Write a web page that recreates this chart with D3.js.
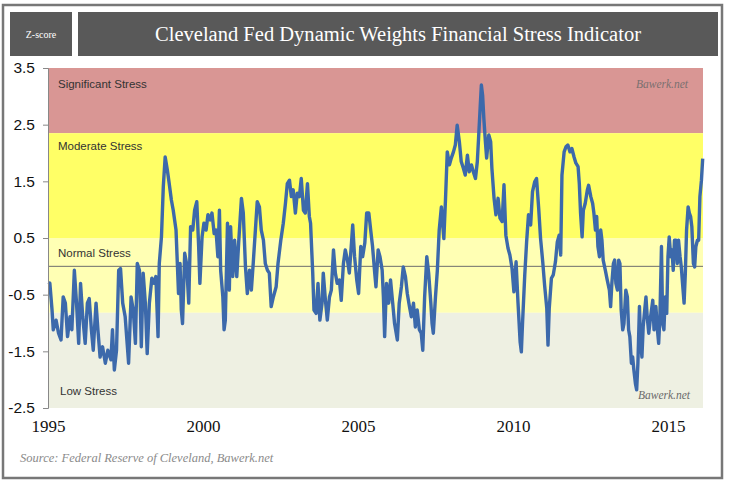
<!DOCTYPE html>
<html><head><meta charset="utf-8">
<script src="https://cdn.jsdelivr.net/npm/d3@7"></script>
<style>body{margin:0;background:#fff}svg{display:block}</style>
</head><body>
<svg id="c" width="730" height="488"></svg>
<script>
const dates=[1995.02,1995.06,1995.13,1995.17,1995.26,1995.34,1995.42,1995.49,1995.56,1995.63,1995.71,1995.77,1995.85,1995.92,1995.99,1996.05,1996.12,1996.20,1996.27,1996.33,1996.40,1996.46,1996.55,1996.61,1996.68,1996.76,1996.85,1996.93,1997.03,1997.08,1997.14,1997.21,1997.28,1997.34,1997.41,1997.49,1997.60,1997.68,1997.75,1997.82,1997.88,1997.95,1998.01,1998.07,1998.14,1998.20,1998.27,1998.35,1998.42,1998.48,1998.55,1998.59,1998.66,1998.72,1998.78,1998.85,1998.91,1998.98,1999.04,1999.13,1999.21,
1999.26,1999.30,1999.34,1999.41,1999.47,1999.54,1999.60,1999.67,1999.73,1999.80,1999.86,1999.90,1999.97,2000.03,2000.10,2000.16,2000.23,2000.29,2000.36,2000.42,2000.48,2000.53,2000.57,2000.64,2000.68,2000.72,2000.79,2000.85,2000.89,2000.96,2001.02,2001.09,2001.15,2001.24,2001.30,2001.37,2001.43,2001.50,2001.56,2001.62,2001.69,2001.75,2001.82,2001.88,2001.95,2002.01,2002.08,2002.14,2002.20,2002.27,2002.36,2002.42,2002.51,2002.59,2002.66,2002.72,2002.79,2002.85,2002.91,2002.98,2003.04,2003.11,2003.17,2003.24,2003.30,2003.37,2003.43,
2003.47,2003.54,2003.58,2003.65,2003.71,2003.77,2003.84,2003.88,2003.95,2004.01,2004.08,2004.14,2004.21,2004.27,2004.33,2004.40,2004.46,2004.53,2004.59,2004.66,2004.72,2004.79,2004.83,2004.89,2004.96,2005.02,2005.09,2005.15,2005.22,2005.28,2005.35,2005.41,2005.47,2005.54,2005.58,2005.65,2005.71,2005.78,2005.82,2005.86,2005.92,2005.99,2006.05,2006.12,2006.18,2006.27,2006.33,2006.40,2006.46,2006.53,2006.59,2006.66,2006.72,2006.79,2006.85,2006.91,2006.98,2007.04,2007.09,2007.15,2007.22,2007.28,2007.35,2007.39,2007.43,2007.50,2007.56,2007.62,2007.69,
2007.77,2007.82,2007.88,2007.95,2008.01,2008.08,2008.14,2008.20,2008.27,2008.33,2008.40,2008.46,2008.53,2008.59,2008.66,2008.72,2008.79,2008.85,2008.89,2008.94,2008.98,2009.02,2009.06,2009.11,2009.15,2009.22,2009.28,2009.32,2009.39,2009.45,2009.52,2009.58,2009.65,2009.71,2009.77,2009.84,2009.90,2009.97,2010.03,2010.10,2010.16,2010.23,2010.27,2010.31,2010.38,2010.44,2010.50,2010.57,2010.63,2010.70,2010.76,2010.83,2010.89,2010.96,2011.02,2011.09,2011.13,2011.17,2011.24,2011.30,2011.37,2011.43,2011.49,2011.54,2011.58,2011.65,2011.71,2011.77,2011.84,2011.90,
2011.97,2012.03,2012.10,2012.14,2012.18,2012.23,2012.27,2012.33,2012.40,2012.44,2012.51,2012.57,2012.61,2012.66,2012.70,2012.74,2012.79,2012.83,2012.87,2012.91,2012.98,2013.04,2013.11,2013.15,2013.19,2013.24,2013.28,2013.32,2013.37,2013.41,2013.45,2013.49,2013.54,2013.58,2013.64,2013.69,2013.73,2013.77,2013.82,2013.86,2013.90,2013.95,2013.99,2014.03,2014.08,2014.12,2014.16,2014.20,2014.25,2014.29,2014.33,2014.38,2014.44,2014.51,2014.55,2014.61,2014.66,2014.70,2014.74,2014.79,2014.83,2014.87,2014.91,2014.96,2015.00,2015.04,2015.09,2015.13,2015.17,2015.21,2015.26,2015.30,2015.34,2015.39,2015.43,2015.47,2015.52,2015.56,2015.60,2015.65,2015.69,2015.73,2015.77,2015.82,2015.86,2015.90,2015.95,2015.99,2016.03,2016.08,2016.12];
const stress=[-0.28,-0.30,-0.77,-1.12,-0.95,-1.18,-1.30,-0.54,-0.65,-1.24,-0.89,-1.12,-0.07,-0.65,-1.36,-0.30,-0.89,-1.36,-0.65,-0.57,-1.12,-1.48,-0.65,-1.12,-1.60,-1.42,-1.71,-1.48,-1.65,-1.12,-1.83,-1.48,-0.07,-0.04,-0.65,-0.89,-1.71,-0.54,-0.77,-1.36,0.05,-0.07,-1.42,-0.12,-0.65,-1.54,-0.65,-0.21,-0.30,-0.18,-1.24,0.05,0.52,1.41,1.93,1.70,1.46,1.17,0.99,0.64,-0.48,
0.05,-0.77,-1.01,0.23,0.05,-0.65,0.70,0.64,0.99,1.14,0.35,-0.30,0.52,0.76,0.64,0.91,0.82,0.94,0.58,0.64,0.17,0.99,-0.07,-0.54,-1.12,-0.95,0.76,-0.42,0.70,-0.18,0.46,-0.18,0.41,1.20,0.94,-0.01,-0.48,-0.07,-0.42,0.05,0.64,1.14,1.05,0.64,0.46,0.05,-0.07,-0.12,-0.71,-0.54,-0.36,0.05,0.46,0.76,1.11,1.46,1.52,1.23,1.35,0.94,1.29,1.23,1.55,0.99,0.94,1.46,0.88,
0.76,-0.12,-0.77,-0.83,-0.30,-0.95,-0.65,-0.12,-0.60,-0.95,-0.54,-0.42,0.29,-0.12,-0.30,-0.24,-0.60,0.05,0.29,0.11,-0.12,0.41,0.73,0.17,-0.24,-0.48,0.35,0.17,0.41,0.94,0.94,0.64,0.35,-0.12,-0.36,0.29,0.17,-0.07,-0.54,-1.24,-0.30,-0.65,-0.24,-0.65,-1.01,-1.30,-0.65,-0.36,-0.01,-0.18,-0.48,-0.71,-0.89,-0.65,-1.07,-0.77,-1.12,-1.18,-1.48,-0.54,0.17,-0.12,-0.65,-1.01,-1.18,-0.54,-0.07,0.64,1.05,
0.49,1.14,2.02,1.79,1.91,2.02,2.14,2.49,2.20,1.85,1.73,1.61,1.96,1.67,1.79,1.67,1.55,1.85,2.26,2.79,3.20,3.02,2.61,2.20,1.91,2.32,2.20,1.73,1.20,0.91,1.20,0.85,0.79,1.44,0.55,0.32,0.20,-0.04,-0.45,0.08,-0.62,-1.33,-1.51,-0.98,-0.15,0.43,0.91,0.73,1.32,1.49,1.55,1.02,0.49,0.08,-0.33,-0.74,-1.39,-0.74,-0.21,-0.15,0.08,0.43,0.55,0.20,1.61,2.02,2.11,2.14,2.02,2.08,
1.93,1.82,1.76,1.46,0.94,0.52,0.99,1.11,1.35,1.43,1.23,1.11,0.94,0.64,0.88,0.35,0.17,0.64,0.46,0.11,-0.07,-0.24,-0.42,-0.71,-0.30,0.05,0.11,-0.30,-0.42,0.11,0.05,-0.77,-1.12,-1.01,-0.42,-0.54,-1.12,-1.24,-1.71,-1.60,-1.83,-2.07,-2.18,-1.71,-0.71,-1.36,-1.60,-1.07,-0.77,-0.54,-0.89,-1.18,-0.89,-0.60,-1.12,-0.71,-1.12,-1.36,-0.89,0.35,-1.01,-1.12,-0.54,-0.83,0.17,0.52,0.17,0.29,-0.07,0.46,0.46,0.05,0.46,0.17,-0.01,-0.30,-0.65,-0.12,0.64,1.05,0.94,0.88,0.70,0.05,-0.01,0.35,0.46,0.46,1.23,1.52,1.90];
const yTicks=[3.5,2.5,1.5,0.5,-0.5,-1.5,-2.5];
const xTicks=[1995,2000,2005,2010,2015];
const bandNames=["Significant Stress","Moderate Stress","Normal Stress","Low Stress"];
const bandTop=[3.5,2.35,0.5,-0.82];
const bandBottom=[2.35,0.5,-0.82,-2.5];
const titleText="Cleveland Fed Dynamic Weights Financial Stress Indicator";
const unitText="Z-score";
const sourceText="Source: Federal Reserve of Cleveland, Bawerk.net";
const watermark="Bawerk.net";

const bandColors=["#d99694","#ffff66","#ffffb4","#eef0e2"];
const labelOffsets=[16,13,15,-17];
const svg=d3.select("#c");
const x=d3.scaleLinear().domain([1995,2016.13]).range([48,703]);
const y=d3.scaleLinear().domain([-2.5,3.5]).range([408,68]);

// frame
svg.append("rect").attr("x",3).attr("y",5).attr("width",719).attr("height",473)
  .attr("fill","#fff").attr("stroke","#777").attr("stroke-width",2.5);
// header boxes
svg.append("rect").attr("x",10).attr("y",12).attr("width",62).attr("height",44).attr("fill","#595959");
svg.append("rect").attr("x",78).attr("y",12).attr("width",640).attr("height",44).attr("fill","#595959");
svg.append("text").attr("x",41).attr("y",38).attr("text-anchor","middle")
  .attr("font-family","Liberation Serif").attr("font-size",10).attr("fill","#fff").text(unitText);
svg.append("text").attr("x",398).attr("y",41).attr("text-anchor","middle")
  .attr("font-family","Liberation Serif").attr("font-size",20).attr("fill","#fff")
  .attr("textLength",486).attr("lengthAdjust","spacingAndGlyphs").text(titleText);

// bands
const bands=bandNames.map((n,i)=>({n,t:bandTop[i],b:bandBottom[i],c:bandColors[i],i}));
svg.append("g").selectAll("rect").data(bands).join("rect")
  .attr("x",x(1995)).attr("width",x.range()[1]-x(1995))
  .attr("y",d=>y(d.t)).attr("height",d=>y(d.b)-y(d.t)).attr("fill",d=>d.c);
svg.append("g").selectAll("text").data(bands).join("text")
  .attr("x",d=>d.i===3?60:58)
  .attr("y",d=>d.i===3?y(d.b)+labelOffsets[d.i]:y(d.t)+labelOffsets[d.i])
  .attr("dominant-baseline","central")
  .attr("font-family","Liberation Sans").attr("font-size",11.5).attr("fill","#333")
  .text(d=>d.n);

// zero line
svg.append("line").attr("x1",x(1995)).attr("x2",x.range()[1]).attr("y1",y(0)).attr("y2",y(0))
  .attr("stroke","#6e6e6e").attr("stroke-width",1);

// watermarks
svg.append("text").attr("x",688).attr("y",88).attr("text-anchor","end")
  .attr("font-family","Liberation Serif").attr("font-style","italic").attr("font-size",11.5)
  .attr("fill","#7a7070").text(watermark);
svg.append("text").attr("x",690).attr("y",399).attr("text-anchor","end")
  .attr("font-family","Liberation Serif").attr("font-style","italic").attr("font-size",11.5)
  .attr("fill","#6a6a6a").text(watermark);

// line
const pts=dates.map((d,i)=>[d,stress[i]]);
svg.append("path").datum(pts)
  .attr("d",d3.line().x(d=>x(d[0])).y(d=>y(d[1])))
  .attr("fill","none").attr("stroke","#3c69ab").attr("stroke-width",3.4).attr("stroke-linejoin","round");

// y axis
const ya=svg.append("g").attr("transform","translate(48,0)")
  .call(d3.axisLeft(y).tickValues(yTicks).tickSize(5).tickPadding(8).tickFormat(d=>String(d)));
ya.select(".domain").attr("stroke","#888");
ya.selectAll(".tick line").attr("stroke","#888");
ya.selectAll("text").attr("font-family","Liberation Sans").attr("font-size",15.5).attr("fill","#111");

// x axis
const xa=svg.append("g").attr("transform","translate(0,412)")
  .call(d3.axisBottom(x).tickValues(xTicks).tickSize(0).tickPadding(8).tickFormat(d3.format("d")));
xa.select(".domain").remove();
xa.selectAll("text").attr("font-family","Liberation Serif").attr("font-size",17).attr("fill","#111");

// source
svg.append("text").attr("x",20).attr("y",462)
  .attr("font-family","Liberation Serif").attr("font-style","italic").attr("font-size",12.5)
  .attr("fill","#8a8a8a").text(sourceText);
</script>
</body></html>
